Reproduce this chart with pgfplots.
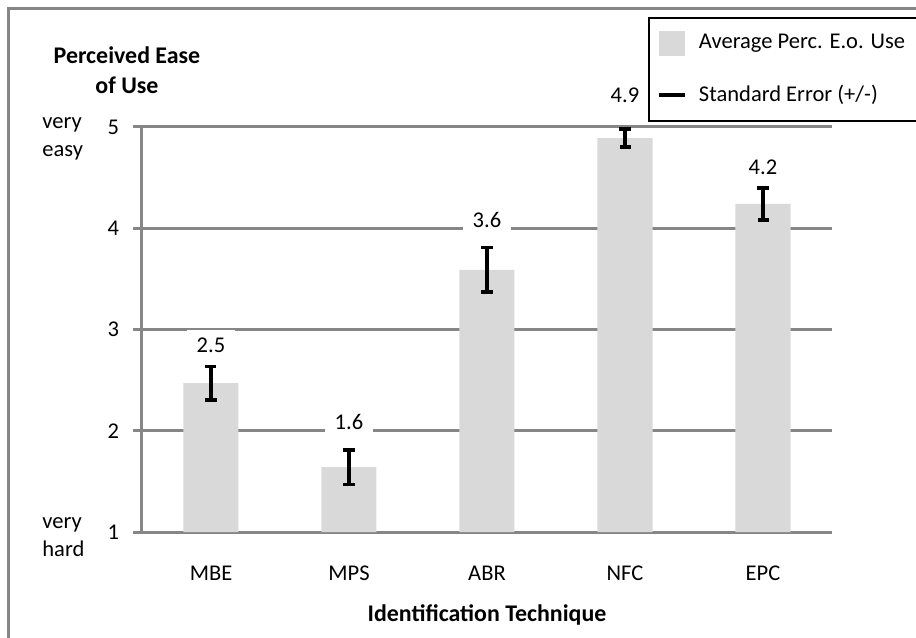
\documentclass[border=0pt]{standalone}
\usepackage{pgfplots}
\pgfplotsset{compat=1.18}
\usepackage{pgfplotstable}
\usepackage{fontspec}
\setmainfont{Carlito}
\definecolor{barfill}{HTML}{D9D9D9}
\definecolor{gridgray}{HTML}{868686}

% x, bar value, standard error, label position, label
\pgfplotstableread{
x  y     e      ly     lab
0  2.47  0.165  2.847  2.5
1  1.64  0.170  2.086  1.6
2  3.59  0.220  4.080  3.6
3  4.89  0.090  5.316  4.9
4  4.24  0.160  4.605  4.2
}\easetable

\newcommand{\lblfont}{\fontsize{11.3}{14}\selectfont}

\begin{document}
\lblfont
\begin{tikzpicture}
  \useasboundingbox (-71bp,-53bp) rectangle (387bp,266bp);
  \begin{axis}[
    at={(0,0)}, anchor=south west,
    scale only axis, width=345bp, height=202.5bp,
    xmin=-0.5, xmax=4.5, ymin=1, ymax=5,
    clip=false,
    axis x line*=bottom, axis y line*=left,
    axis line style={gridgray, line width=1.5bp, -},
    xtick={0,1,2,3,4},
    xticklabels={MBE,MPS,ABR,NFC,EPC},
    xtick style={draw=none},
    minor xtick={-0.5,0.5,1.5,2.5,3.5,4.5},
    minor x tick style={gridgray, line width=1.5bp},
    minor tick length=4bp,
    ytick={1,2,3,4,5},
    ytick style={gridgray, line width=1.5bp},
    major tick length=4.5bp,
    tick align=outside,
    ymajorgrids,
    grid style={gridgray, line width=1.5bp},
    /pgf/number format/assume math mode=true,
    tick label style={font=\lblfont},
    xticklabel style={anchor=center, yshift=-16bp},
    yticklabel style={anchor=east, xshift=-3bp},
    xlabel={\fontsize{12}{14}\selectfont\bfseries Identification Technique},
    xlabel style={at={(axis description cs:0.5,-0.205)}, anchor=center},
    legend style={at={(0.7333,1.271)}, anchor=north west,
      draw=black, line width=1bp, inner xsep=4bp, inner ysep=6bp,
      row sep=12.5bp, font=\lblfont,
      /tikz/every odd column/.append style={column sep=4bp}},
    legend cell align=left,
  ]
    \addplot[ybar, bar width=27.5bp, bar shift=0pt, fill=barfill, draw=none,
      legend image code/.code={\fill[barfill] (0bp,-6.25bp) rectangle (13bp,6.25bp);},
      error bars/.cd, y dir=both, y explicit,
      error bar style={black, line width=2bp},
      error mark options={black, rotate=90, mark size=2.75bp, line width=1.8bp}]
      table[x=x, y=y, y error=e] {\easetable};
    \addlegendentry{Average Perc. E.o. Use}
    \addlegendimage{legend image code/.code={\draw[black, line width=2bp] (0bp,0bp) -- (13bp,0bp);}}
    \addlegendentry{Standard Error (+/-)}
    \addplot[draw=none, mark=none, nodes near coords, point meta=explicit symbolic,
      nodes near coords style={anchor=center, fill=white, inner xsep=5bp,
        font=\lblfont}]
      table[x=x, y=ly, meta=lab] {\easetable};
  \end{axis}
  \draw[gridgray, line width=1.5bp] (-66.5bp,-53bp) -- (-66.5bp,261.5bp) -- (387bp,261.5bp);
  \node[anchor=west, align=left, inner sep=0pt] at (-50bp,196.5bp) {very\\easy};
  \node[anchor=west, align=left, inner sep=0pt] at (-50bp,-2.5bp) {very\\hard};
  \node[align=center, inner sep=0pt, font=\fontsize{12}{15}\selectfont\bfseries]
    at (-7.5bp,231bp) {Perceived Ease\\of Use};
\end{tikzpicture}
\end{document}
